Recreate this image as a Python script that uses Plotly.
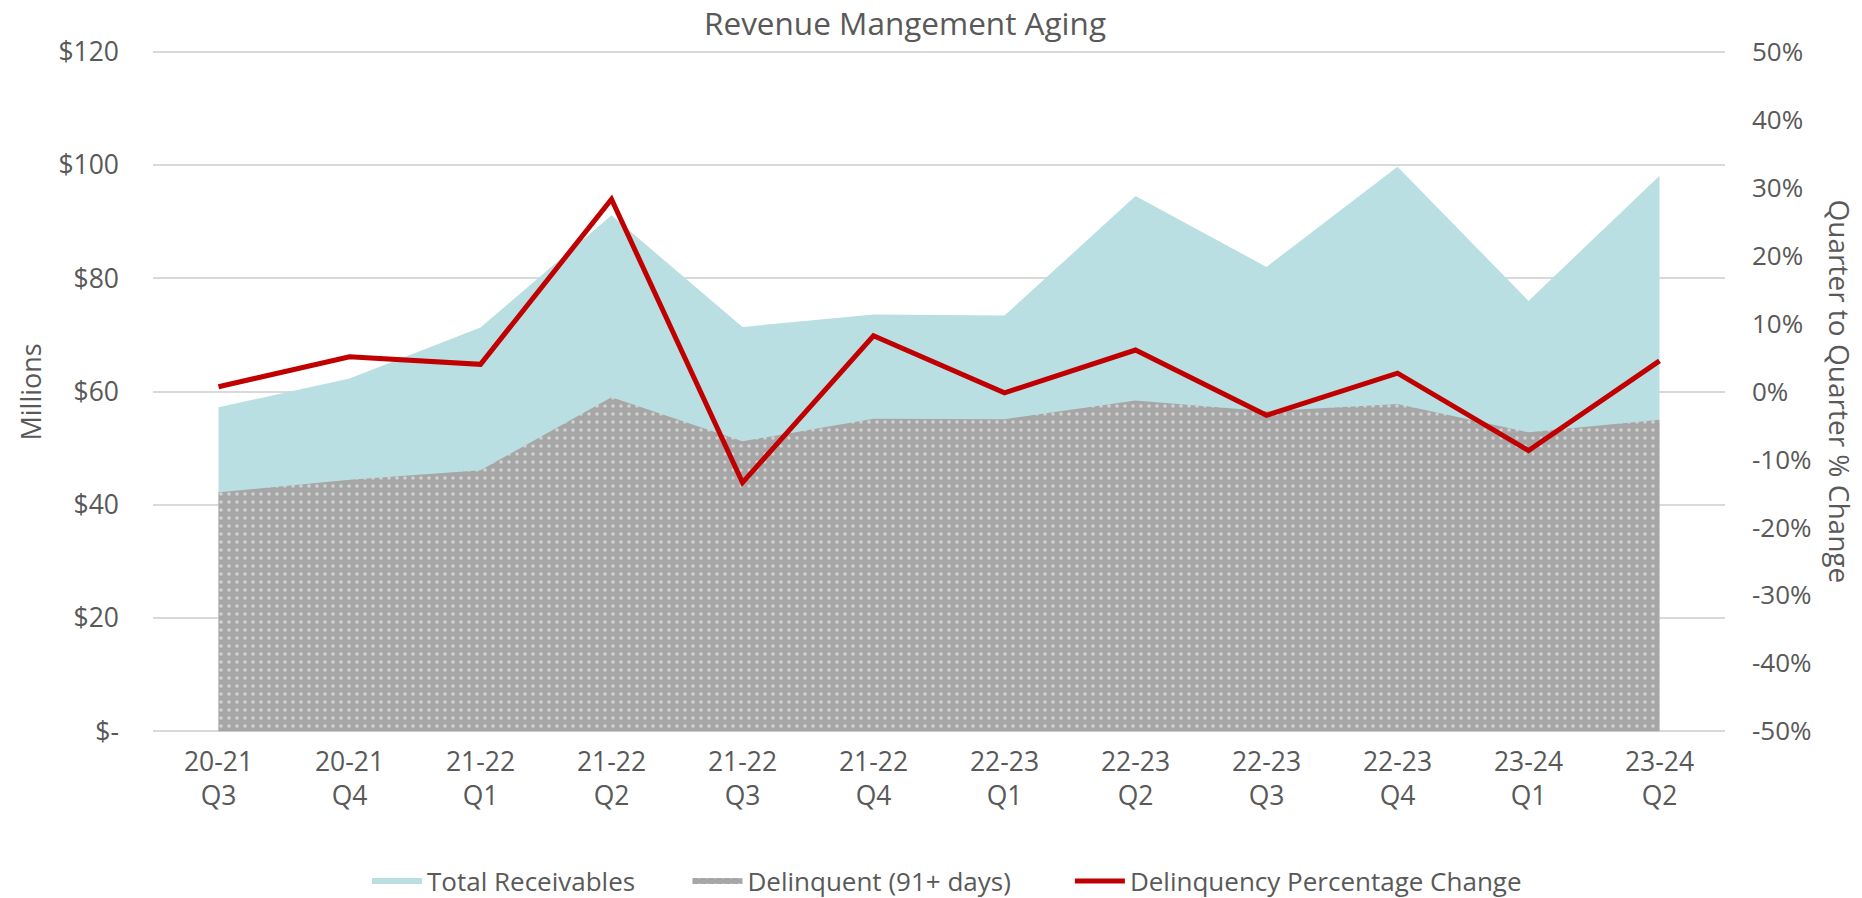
import plotly.graph_objects as go

quarters = ["20-21<br>Q3", "20-21<br>Q4", "21-22<br>Q1", "21-22<br>Q2", "21-22<br>Q3", "21-22<br>Q4",
            "22-23<br>Q1", "22-23<br>Q2", "22-23<br>Q3", "22-23<br>Q4", "23-24<br>Q1", "23-24<br>Q2"]
total_receivables = [57.2, 62.3, 71.3, 91.1, 71.4, 73.6, 73.4, 94.5, 82.0, 99.7, 76.0, 98.1]
delinquent = [42.2, 44.4, 46.1, 59.0, 51.2, 55.2, 55.1, 58.4, 56.5, 57.8, 52.8, 55.0]
pct_change = [0.007, 0.051, 0.040, 0.283, -0.134, 0.082, -0.002, 0.061, -0.035, 0.027, -0.087, 0.045]

left_tickvals = [0, 20, 40, 60, 80, 100, 120]
left_ticktext = ["$-", "$20", "$40", "$60", "$80", "$100", "$120"]
right_tickvals = [-0.5, -0.4, -0.3, -0.2, -0.1, 0, 0.1, 0.2, 0.3, 0.4, 0.5]
right_ticktext = ["-50%", "-40%", "-30%", "-20%", "-10%", "0%", "10%", "20%", "30%", "40%", "50%"]

FONT = "Open Sans"
TXT = "#595959"
NB = "\u00a0"
W, H = 1862, 898
PAD = 0.3                      # small range padding so the edge gridlines are drawn
PX_PER_UNIT = 679 / 120
L, R = 153, 137
T = round(52 - PAD * PX_PER_UNIT)
B = round(898 - 731 - PAD * PX_PER_UNIT)
PLOT_H = H - T - B
PLOT_W = W - L - R

fig = go.Figure()
fig.add_trace(go.Scatter(
    x=quarters, y=total_receivables, name="Total Receivables" + NB * 7,
    mode="none", fill="tozeroy", fillcolor="#b9dfe3", hoverinfo="skip"))
fig.add_trace(go.Scatter(
    x=quarters, y=delinquent, name="Delinquent (91+ days)" + NB * 8,
    mode="none", fill="tozeroy", fillcolor="#a6a6a6",
    fillpattern=dict(shape=".", bgcolor="#a6a6a6", fgcolor="#ffffff", size=8, solidity=0.15),
    hoverinfo="skip"))
fig.add_trace(go.Scatter(
    x=quarters, y=pct_change, name="Delinquency Percentage Change",
    mode="lines", line=dict(color="#c00000", width=5), yaxis="y2"))

pad2 = PAD / 120  # same relative padding on the percentage axis
fig.update_layout(
    width=W, height=H,
    margin=dict(l=L, r=R, t=T, b=B, autoexpand=False),
    paper_bgcolor="white", plot_bgcolor="white",
    font=dict(family=FONT, color=TXT, size=26),
    title=dict(text="Revenue Mangement Aging", x=905 / W, xanchor="center", xref="container",
               y=1 - 24 / H, yanchor="middle", yref="container",
               font=dict(size=31.5, color=TXT, family=FONT)),
    xaxis=dict(type="category", range=[-0.5, 11.5], showgrid=False, zeroline=False,
               showline=False, ticks="", ticklabelstandoff=10,
               tickfont=dict(size=26.5, color=TXT)),
    yaxis=dict(range=[-PAD, 120 + PAD], tickvals=left_tickvals, ticktext=left_ticktext,
               showgrid=True, gridcolor="#d9d9d9", gridwidth=1.5, zeroline=False,
               showline=False, ticks="", ticklabelstandoff=33,
               tickfont=dict(size=26.5, color=TXT)),
    yaxis2=dict(range=[-0.5 - pad2, 0.5 + pad2], tickvals=right_tickvals, ticktext=right_ticktext,
                overlaying="y", side="right", showgrid=False, zeroline=False,
                showline=False, ticks="", ticklabelstandoff=26,
                tickfont=dict(size=26, color=TXT)),
    legend=dict(orientation="h", x=0.5 + 8 / PLOT_W, xanchor="center", y=-(881 - (H - B)) / PLOT_H,
                yanchor="middle", font=dict(size=26, color=TXT), traceorder="normal",
                itemwidth=50, bgcolor="rgba(0,0,0,0)"),
    showlegend=True,
    annotations=[
        dict(text="Millions", xref="paper", yref="paper", x=(30 - L) / PLOT_W, y=0.5,
             xanchor="center", yanchor="middle", textangle=-90, showarrow=False,
             font=dict(size=27, color=TXT, family=FONT)),
        dict(text="Quarter to Quarter % Change", xref="paper", yref="paper",
             x=(1840 - L) / PLOT_W, y=0.5, xanchor="center", yanchor="middle",
             textangle=90, showarrow=False, font=dict(size=28, color=TXT, family=FONT)),
    ],
)

fig.write_html("out.html", config={"displayModeBar": False},
               post_script="document.body.style.margin='0';document.body.style.overflow='hidden';")
